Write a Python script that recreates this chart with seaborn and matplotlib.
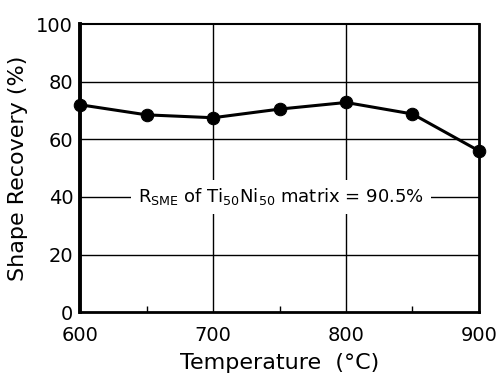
import matplotlib
matplotlib.use("Agg")
import matplotlib.pyplot as plt
import seaborn as sns
import pandas as pd
from matplotlib.ticker import MultipleLocator

temperature = [600, 650, 700, 750, 800, 850, 900]
recovery = [72.0, 68.5, 67.5, 70.5, 72.8, 68.8, 56.0]
x_ticks = [600, 700, 800, 900]
y_ticks = [0, 20, 40, 60, 80, 100]

sns.set_style("white")
plt.rcParams['font.family'] = ['DejaVu Sans']
plt.rcParams['mathtext.fontset'] = 'dejavusans'
plt.rcParams['text.color'] = 'black'
plt.rcParams['axes.labelcolor'] = 'black'
plt.rcParams['xtick.color'] = 'black'
plt.rcParams['ytick.color'] = 'black'

df = pd.DataFrame({"Temperature": temperature, "Recovery": recovery})

fig = plt.figure(figsize=(5.01, 3.77), dpi=100)
ax = fig.add_axes([0.160, 0.172, 0.796, 0.764])

for v in [700, 800]:
    ax.axvline(v, color="black", lw=1.0, zorder=1)
for v in [20, 40, 60, 80]:
    ax.axhline(v, color="black", lw=1.0, zorder=1)

sns.lineplot(data=df, x="Temperature", y="Recovery", marker="o", color="black",
             lw=2.2, markersize=9, markeredgecolor="black", ax=ax, zorder=5, clip_on=False)

ax.set_xlim(600, 900)
ax.set_ylim(0, 100)
ax.set_xticks(x_ticks)
ax.set_yticks(y_ticks)
ax.xaxis.set_minor_locator(MultipleLocator(50))
ax.tick_params(axis="x", which="major", length=0, labelsize=14, pad=10)
ax.tick_params(axis="y", which="major", length=0, labelsize=14, pad=5)
ax.tick_params(axis="x", which="minor", direction="in", length=4, width=1, bottom=True)

ax.set_xlabel("Temperature  (°C)", fontsize=16, labelpad=6)
ax.set_ylabel("Shape Recovery (%)", fontsize=16, labelpad=6)

ax.text(751, 40, r"R$_{\rm SME}$ of Ti$_{50}$Ni$_{50}$ matrix = 90.5%", fontsize=13,
        ha="center", va="center", zorder=4,
        bbox=dict(facecolor="white", edgecolor="none", pad=5))

for side, w in {"left": 2.8, "bottom": 2.0, "right": 2.0, "top": 1.5}.items():
    ax.spines[side].set_linewidth(w)
    ax.spines[side].set_color("black")
    ax.spines[side].set_visible(True)

fig.savefig("out.png", dpi=100)
